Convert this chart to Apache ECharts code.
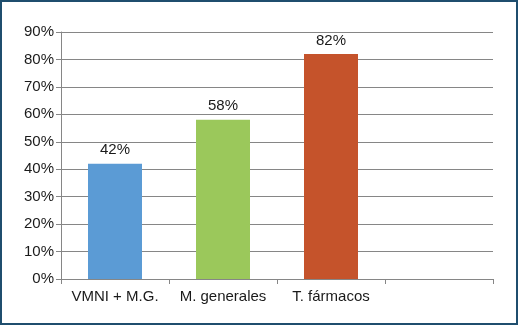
<!DOCTYPE html>
<html>
<head>
<meta charset="utf-8">
<script src="https://cdn.jsdelivr.net/npm/echarts@6/dist/echarts.min.js"></script>
<style>
    html, body { margin: 0; padding: 0; background: #fff; }
    #chart { position: absolute; left: 0; top: 0; width: 518px; height: 325px; }
    #frame { position: absolute; left: 0; top: 0; width: 518px; height: 325px;
             box-sizing: border-box; border: 2px solid #1f4e6e; pointer-events: none; }
</style>
</head>
<body>
<div id="chart"></div>
<div id="frame"></div>
<script>
// categorias y valores (%)
var categorias = ['VMNI + M.G.', 'M. generales', 'T. fármacos', ''];
var valores = [42, 58, 82, null];
var colores = ['#5b9bd5', '#9bc85b', '#c5532b', '#ffffff'];

var chart = echarts.init(document.getElementById('chart'));
var fuente = 'Liberation Sans, Arial, sans-serif';

var datos = [];
for (var i = 0; i < valores.length; i++) {
    datos.push({
        value : valores[i],
        itemStyle : { color : colores[i] }
    });
}

chart.setOption({
    animation : false,
    grid : {
        left : 61,
        right : 25,
        top : 32,
        bottom : 46
    },
    xAxis : {
        type : 'category',
        data : categorias,
        axisLine : { lineStyle : { color : '#868686', width : 1 } },
        axisTick : { show : true, length : 5, lineStyle : { color : '#868686' } },
        axisLabel : {
            interval : 0,
            color : '#1a1a1a',
            fontSize : 15,
            fontFamily : fuente,
            margin : 10
        }
    },
    yAxis : {
        type : 'value',
        min : 0,
        max : 90,
        interval : 10,
        axisLine : { show : true, lineStyle : { color : '#868686', width : 1 } },
        axisTick : { show : true, length : 5, lineStyle : { color : '#868686' } },
        axisLabel : {
            color : '#1a1a1a',
            fontSize : 15,
            fontFamily : fuente,
            margin : 7,
            formatter : '{value}%'
        },
        splitLine : { lineStyle : { color : '#868686', width : 1 } }
    },
    series : [ {
        type : 'bar',
        barWidth : '50%',
        data : datos,
        label : {
            show : true,
            position : 'top',
            distance : 6,
            color : '#1a1a1a',
            fontSize : 15,
            fontFamily : fuente,
            formatter : function(p) {
                return p.value == null ? '' : p.value + '%';
            }
        }
    } ]
});
</script>
</body>
</html>
